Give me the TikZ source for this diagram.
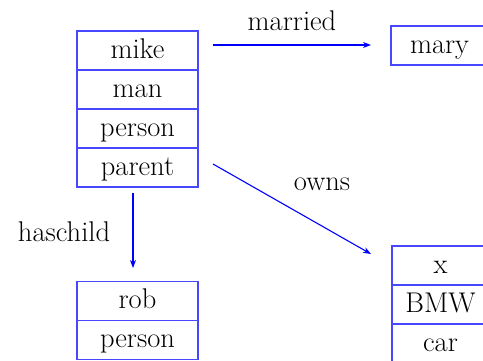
\documentclass[tikz,border=0pt]{standalone}
\usetikzlibrary{arrows.meta}
\begin{document}
\begin{tikzpicture}[x=1pt,y=-1pt,
  cell/.style={draw=blue!72, line width=1.2pt, rectangle, anchor=base,
    inner sep=0pt, outer sep=0pt, font=\fontsize{28.5}{34}\selectfont,
    text height=27.3pt, text depth=11.7pt},
  wide/.style={cell, text width=121pt, align=center},
  narrow/.style={cell, text width=97pt, align=center},
  rel/.style={draw=blue, line width=1.1pt, -{Stealth[length=8pt,width=6pt,inset=2.5pt]}},
  lbl/.style={font=\fontsize{28.5}{34}\selectfont, inner sep=0pt, anchor=base}]
\useasboundingbox (0,0) rectangle (483,360);

% mike's frame (positions are baselines)
\node[wide] (mike)   at (137.5,58.3)  {mike};
\node[wide] (man)    at (137.5,97.3)  {man};
\node[wide] (pers1)  at (137.5,136.3) {person};
\node[wide] (parent) at (137.5,175.3) {parent};

% mary
\node[narrow] (mary) at (439.5,53.3) {mary};

% rob's frame
\node[wide] (rob)   at (137.5,308.6) {rob};
\node[wide] (pers2) at (137.5,347.6) {person};

% the car x
\node[narrow] (x)   at (440.5,273.3) {x};
\node[narrow] (bmw) at (440.5,312.3) {BMW};
\node[narrow] (car) at (440.5,351.3) {car};

% relations
\coordinate (m1) at (213,45);
\coordinate (m2) at (371,45);
\draw[rel] (m1) -- (m2);
\node[lbl] (lmarried) at (292,30) {married};

\coordinate (o1) at (213,164);
\coordinate (o2) at (371,254);
\draw[rel] (o1) -- (o2);
\node[lbl] (lowns) at (322,190) {owns};

\coordinate (h1) at (133,193);
\coordinate (h2) at (133,268);
\draw[rel] (h1) -- (h2);
\node[lbl] (lhas) at (64,241) {haschild};
\end{tikzpicture}
\end{document}
